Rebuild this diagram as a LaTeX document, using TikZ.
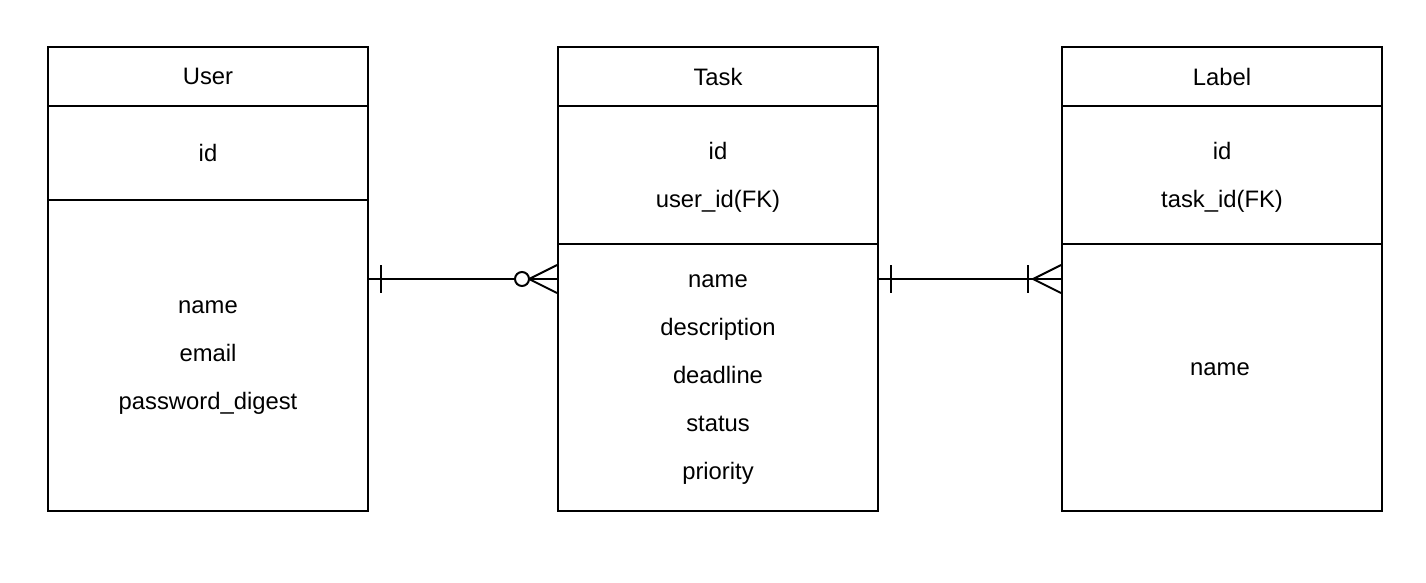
\documentclass[tikz,border=0pt]{standalone}
\usepackage{fontspec}
\setmainfont{Liberation Sans}
\usetikzlibrary{positioning}

\begin{document}
\begin{tikzpicture}[x=1pt,y=-1pt,line width=2pt,
    entity/.style={draw,rectangle,anchor=north west,minimum width=320pt,inner sep=0pt,align=center,text depth=0pt,font=\fontsize{23.8}{48}\selectfont},
    field/.style={font=\fontsize{23.8}{48}\selectfont}]
    \useasboundingbox (0,0) rectangle (1426,582);

    % User
    \node[entity,minimum height=59pt] (userhead) at (47,46) {User};
    \node[entity,minimum height=94pt] (userkey) at (47,105) {id};
    \node[entity,minimum height=311pt] (userattr) at (47,199) {name\\email\\password\_digest};

    % Task
    \node[entity,minimum height=59pt] (taskhead) at (557,46) {Task};
    \node[entity,minimum height=138pt] (taskkey) at (557,105) {id\\user\_id(FK)};
    \node[entity,minimum height=267pt] (taskattr) at (557,243) {name\\description\\deadline\\status\\priority};

    % Label
    \node[entity,minimum height=59pt] (labelhead) at (1061,46) {Label};
    \node[entity,minimum height=138pt] (labelkey) at (1061,105) {id\\task\_id(FK)};
    \node[entity,minimum height=267pt] (labelattr) at (1061,243) {};
    \node[field] (labelname) at (1220,369) {name};

    \coordinate (usertask) at (367,279);
    \coordinate (taskuser) at (557,279);
    \coordinate (tasklabel) at (877,279);
    \coordinate (labeltask) at (1061,279);

    % User 1 -- 0..n Task
    \draw (usertask) -- (taskuser);
    \draw ([shift={(14,-14)}]usertask) -- ([shift={(14,14)}]usertask);
    \draw ([shift={(-28,0)}]taskuser) -- ([shift={(0,-14)}]taskuser)
          ([shift={(-28,0)}]taskuser) -- ([shift={(0,14)}]taskuser);
    \draw[fill=white] ([shift={(-35,0)}]taskuser) circle (7pt);

    % Task 1 -- 1..n Label
    \draw (tasklabel) -- (labeltask);
    \draw ([shift={(14,-14)}]tasklabel) -- ([shift={(14,14)}]tasklabel);
    \draw ([shift={(-33,-14)}]labeltask) -- ([shift={(-33,14)}]labeltask);
    \draw ([shift={(-28,0)}]labeltask) -- ([shift={(0,-14)}]labeltask)
          ([shift={(-28,0)}]labeltask) -- ([shift={(0,14)}]labeltask);
\end{tikzpicture}
\end{document}
